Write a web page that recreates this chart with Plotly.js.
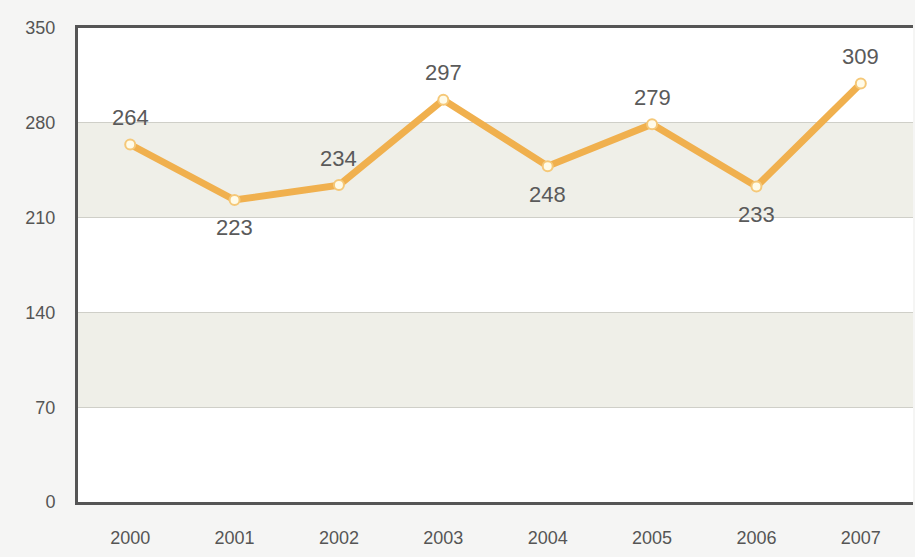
<!DOCTYPE html>
<html>
<head>
<meta charset="utf-8">
<script src="https://cdn.plot.ly/plotly-3.0.1.min.js"></script>
<style>
html,body{margin:0;padding:0;background:#f5f5f4;}
#chart{width:915px;height:557px;}
</style>
</head>
<body>
<div id="chart"></div>
<script>
var years = ['2000','2001','2002','2003','2004','2005','2006','2007'];
var values = [264, 223, 234, 297, 248, 279, 233, 309];
var labelAbove = [true, false, true, true, false, true, false, true];
var yTicks = [0, 70, 140, 210, 280, 350];
var bands = [[70, 140], [210, 280]];

var trace = {
  x: years,
  y: values,
  type: 'scatter',
  mode: 'lines+markers',
  line: {color: '#f0b04e', width: 7},
  marker: {size: 10, color: '#fffbe8', line: {color: '#f5c878', width: 2}},
  cliponaxis: false,
  hoverinfo: 'x+y'
};

// category axis: annotation x given as category index
var annotations = years.map(function(yr, i){
  return {
    x: i, y: values[i], xref: 'x', yref: 'y',
    text: String(values[i]), showarrow: false,
    yshift: labelAbove[i] ? 27 : -28,
    font: {family: 'Liberation Sans, Arial, sans-serif', size: 22, color: '#5a5a5a'}
  };
});

var shapes = bands.map(function(b){
  return {type:'rect', xref:'paper', yref:'y', x0:0, x1:1, y0:b[0], y1:b[1],
          fillcolor:'#efefe8', line:{width:0}, layer:'below'};
});

var tickFont = {family: 'Liberation Sans, Arial, sans-serif', size: 18, color: '#555555'};

var layout = {
  width: 915, height: 557,
  margin: {l: 78, r: 2, t: 28, b: 55},
  paper_bgcolor: '#f5f5f4',
  plot_bgcolor: '#ffffff',
  showlegend: false,
  shapes: shapes,
  annotations: annotations,
  xaxis: {
    type: 'category',
    range: [-0.5, 7.5],
    showgrid: false,
    showline: true, linecolor: '#555555', linewidth: 3, mirror: true,
    ticks: '', ticklen: 0,
    ticklabelstandoff: 17,
    tickfont: tickFont,
    fixedrange: true
  },
  yaxis: {
    range: [0, 350],
    tickvals: yTicks,
    ticktext: yTicks.map(String),
    showgrid: true, gridcolor: '#cfcfc8', gridwidth: 1,
    zeroline: false,
    showline: true, linecolor: '#555555', linewidth: 3,
    ticks: '', ticklen: 0,
    ticklabelstandoff: 16,
    tickfont: tickFont,
    fixedrange: true
  }
};

Plotly.newPlot('chart', [trace], layout, {displayModeBar: false, staticPlot: true});
</script>
</body>
</html>
